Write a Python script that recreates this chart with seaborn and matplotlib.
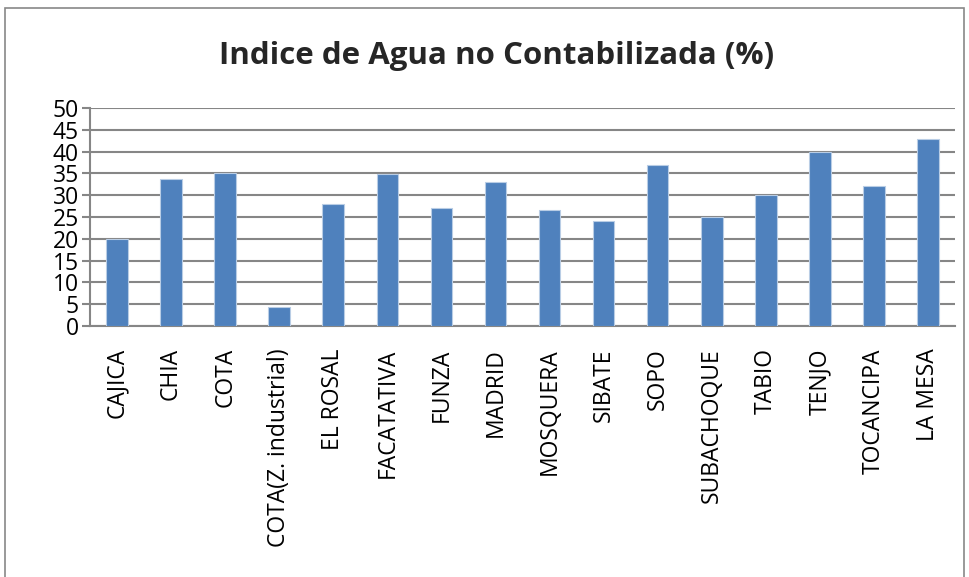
import matplotlib
matplotlib.use("Agg")
import matplotlib.pyplot as plt
import seaborn as sns
import pandas as pd
from matplotlib.patches import Rectangle

municipios = ["CAJICA", "CHIA", "COTA", "COTA(Z. industrial)", "EL ROSAL", "FACATATIVA",
              "FUNZA", "MADRID", "MOSQUERA", "SIBATE", "SOPO", "SUBACHOQUE", "TABIO",
              "TENJO", "TOCANCIPA", "LA MESA"]
indice = [20.0, 33.8, 35.1, 4.4, 28.0, 34.9, 27.0, 33.0, 26.6, 24.0, 37.0, 25.0, 30.0, 40.0, 32.0, 43.0]
yticks = [0, 5, 10, 15, 20, 25, 30, 35, 40, 45, 50]
titulo = "Indice de Agua no Contabilizada (%)"

df = pd.DataFrame({"municipio": municipios, "indice": indice})

sns.set_theme(style="white")
plt.rcParams['font.family'] = ['Open Sans', 'DejaVu Sans']

fig = plt.figure(figsize=(9.7, 5.77), dpi=100)
fig.patches.append(Rectangle((5/970, -0.1), 959/970, 1.1 - 8/577, transform=fig.transFigure,
                             fill=False, edgecolor="#888888", linewidth=1.2))
ax = fig.add_axes([90/970, 1 - 326/577, 865/970, (326 - 108)/577])

sns.barplot(data=df, x="municipio", y="indice", color="#4F81BD", width=0.4,
            edgecolor="#B9CDE5", linewidth=0.8, saturation=1, ax=ax, zorder=3)

ax.set_ylim(0, 50)
ax.set_xlim(-0.5, len(municipios) - 0.5)
ax.set_yticks(yticks)
ax.set_yticklabels([str(v) for v in yticks], fontsize=16.5, color="black")
ax.set_xticks(range(len(municipios)))
ax.set_xticklabels(municipios, rotation=90, fontsize=16.5, color="black")
ax.set_xticks([i - 0.5 for i in range(len(municipios) + 1)], minor=True)
ax.tick_params(axis="x", which="major", length=0, pad=16)
ax.tick_params(axis="x", which="minor", length=6, width=1.5, color="#868686", direction="out")
ax.tick_params(axis="y", which="major", length=6, width=1.5, color="#868686", direction="out", pad=2, left=True)
ax.set_xlabel("")
ax.set_ylabel("")

ax.grid(axis="y", color="#868686", linewidth=1.5, zorder=0)
ax.set_axisbelow(True)
for s in ["top", "right"]:
    ax.spines[s].set_visible(False)
for s in ["left", "bottom"]:
    ax.spines[s].set_color("#868686")
    ax.spines[s].set_linewidth(1.5)

fig.text(497/970, 1 - 56/577, titulo, ha="center", va="center", fontsize=22.5,
         fontweight="bold", family=['Open Sans', 'DejaVu Sans'])

fig.savefig("out.png", dpi=100)
